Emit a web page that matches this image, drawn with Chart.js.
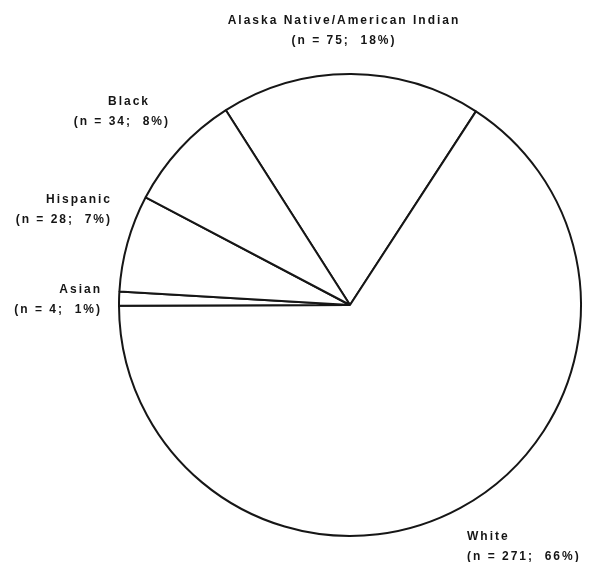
<!DOCTYPE html>
<html>
<head>
<meta charset="utf-8">
<script src="https://cdn.jsdelivr.net/npm/chart.js@4/dist/chart.umd.min.js"></script>
<style>
  body { margin: 0; background: #fff; }
  #wrap { width: 592px; height: 562px; }
</style>
</head>
<body>
<div id="wrap"><canvas id="pie" width="592" height="562"></canvas></div>
<script>
// data, clockwise from the upper slice
const groups = ['Alaska Native/American Indian', 'White', 'Asian', 'Hispanic', 'Black'];
const counts = [75, 271, 4, 28, 34];
const shares = ['18%', '66%', '1%', '7%', '8%'];

// where each label block sits (x, y of first line, alignment)
const labelSpots = [
  { x: 344, y: 21, align: 'center', dx2: 0 },
  { x: 467, y: 537, align: 'left', dx2: 0 },
  { x: 102, y: 290, align: 'right', dx2: 0 },
  { x: 112, y: 200, align: 'right', dx2: 0 },
  { x: 150, y: 102, align: 'right', dx2: 20 }
];

const labelPlugin = {
  id: 'sliceLabels',
  afterDraw(chart) {
    const ctx = chart.ctx;
    ctx.save();
    ctx.fillStyle = '#151515';
    ctx.font = 'bold 12px "Liberation Sans", Arial, sans-serif';
    ctx.letterSpacing = '2px';
    ctx.textBaseline = 'middle';
    groups.forEach((g, i) => {
      const s = labelSpots[i];
      ctx.textAlign = s.align;
      ctx.fillText(g, s.x, s.y);
      ctx.fillText('(n = ' + counts[i] + ';  ' + shares[i] + ')', s.x + s.dx2, s.y + 20);
    });
    ctx.restore();
  }
};

new Chart(document.getElementById('pie'), {
  type: 'pie',
  data: {
    labels: groups,
    datasets: [{
      data: counts,
      backgroundColor: '#ffffff',
      borderColor: '#161616',
      borderWidth: 2
    }]
  },
  options: {
    responsive: false,
    animation: false,
    rotation: -32.5,
    layout: { padding: { left: 118, right: 10, top: 73, bottom: 25 } },
    plugins: {
      legend: { display: false },
      tooltip: { enabled: false }
    }
  },
  plugins: [labelPlugin]
});
</script>
</body>
</html>
